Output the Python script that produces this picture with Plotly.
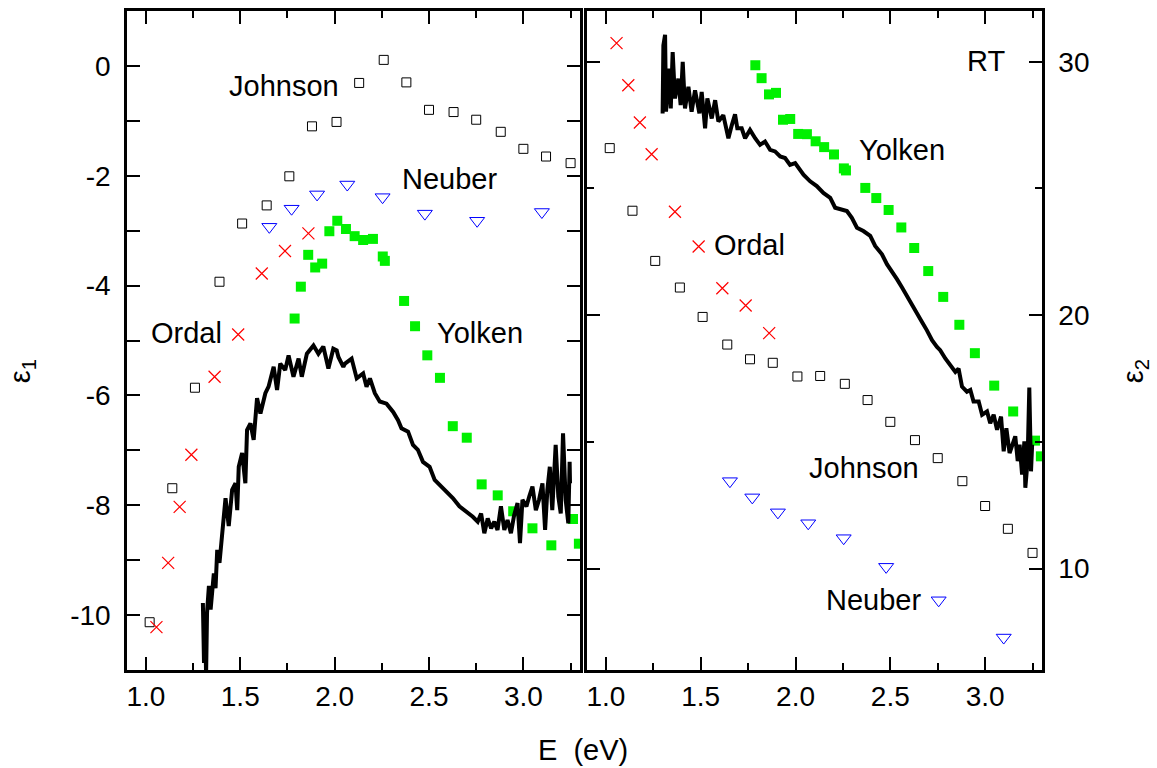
import plotly.graph_objects as go

# ---------------- data ----------------
# Johnson (open squares)
johnson_E = [1.02, 1.14, 1.26, 1.39, 1.51, 1.64, 1.76, 1.88, 2.01, 2.13, 2.26,
             2.38, 2.50, 2.63, 2.75, 2.88, 3.00, 3.12, 3.25]
johnson_e1 = [-10.13, -7.69, -5.86, -3.93, -2.87, -2.54, -2.01, -1.10, -1.02, -0.31, 0.11,
              -0.30, -0.80, -0.84, -0.98, -1.20, -1.51, -1.65, -1.77]
johnson_e2 = [26.59, 24.12, 22.14, 21.09, 19.93, 18.84, 18.26, 18.12, 17.58, 17.60, 17.29,
              16.65, 15.79, 15.07, 14.36, 13.45, 12.47, 11.57, 10.62]

# Ordal (crosses)
ordal_E = [1.056, 1.118, 1.179, 1.241, 1.364, 1.489, 1.614, 1.737, 1.861]
ordal_e1 = [-10.22, -9.05, -8.03, -7.08, -5.66, -4.89, -3.78, -3.37, -3.05]
ordal_e2 = [30.73, 29.07, 27.60, 26.35, 24.08, 22.71, 21.06, 20.38, 19.29]

# Neuber (open down triangles)
neuber_E = [1.654, 1.772, 1.907, 2.067, 2.254, 2.478, 2.755, 3.098]
neuber_e1 = [-2.93, -2.60, -2.34, -2.16, -2.39, -2.69, -2.82, -2.66]
neuber_e2 = [13.45, 12.81, 12.22, 11.79, 11.20, 10.07, 8.75, 7.28]

# Yolken (filled green squares)
yolken_E = [1.788, 1.821, 1.860, 1.897, 1.934, 1.972, 2.014, 2.060, 2.106, 2.151, 2.203,
            2.255, 2.266, 2.368, 2.426, 2.491, 2.558, 2.626, 2.700, 2.779, 2.864, 2.946,
            3.048, 3.148, 3.263, 3.294]
yolken_e1 = [-4.60, -4.02, -3.44, -3.67, -3.60, -3.01, -2.82, -2.97, -3.10, -3.17, -3.15,
             -3.47, -3.55, -4.28, -4.74, -5.27, -5.68, -6.56, -6.77, -7.62, -7.82, -8.11,
             -8.42, -8.73, -8.25, -8.70]
yolken_e2 = [29.86, 29.35, 28.71, 28.77, 27.71, 27.74, 27.15, 27.14, 26.86, 26.63, 26.34,
             25.79, 25.71, 25.02, 24.62, 24.15, 23.46, 22.65, 21.74, 20.72, 19.62, 18.50,
             17.22, 16.20, 15.05, 14.43]

# This work, RT (black noisy curve) - epsilon_1
meas1_E = [1.302, 1.308, 1.314, 1.319, 1.324, 1.334, 1.343, 1.360, 1.369, 1.378, 1.390,
           1.405, 1.422, 1.439, 1.457, 1.475, 1.484, 1.492, 1.510, 1.527, 1.536, 1.554,
           1.571, 1.589, 1.607, 1.633, 1.650, 1.677, 1.695, 1.712, 1.738, 1.756, 1.782,
           1.809, 1.826, 1.853, 1.888, 1.914, 1.940, 1.967, 1.993, 2.011, 2.020, 2.046,
           2.055, 2.090, 2.117, 2.151, 2.169, 2.187, 2.213, 2.239, 2.275, 2.310, 2.336,
           2.354, 2.389, 2.415, 2.441, 2.468, 2.503, 2.530, 2.556, 2.591, 2.626, 2.661,
           2.697, 2.732, 2.758, 2.776, 2.793, 2.811, 2.829, 2.846, 2.863, 2.881, 2.899,
           2.916, 2.934, 2.951, 2.969, 2.982, 2.995, 3.016, 3.031, 3.048, 3.066, 3.083,
           3.101, 3.115, 3.127, 3.140, 3.153, 3.171, 3.185, 3.198, 3.210, 3.224, 3.238,
           3.245, 3.247]
meas1_e1 = [-9.78, -10.87, -10.15, -11.09, -9.96, -9.47, -9.90, -9.24, -9.51, -8.81, -9.05,
            -8.51, -7.87, -8.38, -7.72, -7.60, -8.09, -7.30, -7.05, -7.60, -6.63, -6.51,
            -6.81, -6.05, -6.33, -5.96, -5.84, -5.48, -5.90, -5.42, -5.54, -5.27, -5.66,
            -5.33, -5.66, -5.24, -5.09, -5.24, -5.11, -5.51, -5.15, -5.18, -5.30, -5.48,
            -5.42, -5.33, -5.69, -5.60, -5.84, -5.69, -5.96, -6.11, -6.15, -6.30, -6.45,
            -6.60, -6.66, -6.90, -6.99, -7.21, -7.30, -7.54, -7.63, -7.75, -7.87, -8.02,
            -8.11, -8.21, -8.30, -8.15, -8.51, -8.24, -8.42, -8.30, -8.45, -8.02, -8.45,
            -8.27, -8.51, -8.18, -7.96, -8.69, -7.90, -8.02, -7.84, -7.66, -8.09, -7.90,
            -7.60, -8.45, -7.72, -7.30, -8.09, -6.90, -7.84, -8.15, -6.69, -7.90, -8.33,
            -7.21, -7.60]

# This work, RT (black noisy curve) - epsilon_2
meas2_E = [1.299, 1.303, 1.312, 1.317, 1.329, 1.342, 1.352, 1.364, 1.382, 1.394, 1.405,
           1.417, 1.435, 1.452, 1.470, 1.493, 1.505, 1.523, 1.535, 1.558, 1.576, 1.593,
           1.619, 1.646, 1.664, 1.681, 1.693, 1.716, 1.734, 1.760, 1.787, 1.813, 1.839,
           1.866, 1.892, 1.919, 1.945, 1.971, 1.998, 2.021, 2.042, 2.077, 2.112, 2.147,
           2.183, 2.209, 2.235, 2.271, 2.297, 2.324, 2.358, 2.394, 2.420, 2.456, 2.482,
           2.508, 2.535, 2.561, 2.588, 2.614, 2.640, 2.667, 2.693, 2.720, 2.746, 2.763,
           2.790, 2.816, 2.843, 2.860, 2.878, 2.904, 2.922, 2.939, 2.966, 2.984, 3.010,
           3.027, 3.045, 3.063, 3.084, 3.098, 3.112, 3.129, 3.147, 3.159, 3.172, 3.182,
           3.195, 3.207, 3.212, 3.224, 3.233, 3.242, 3.248]
meas2_e2 = [27.96, 30.64, 31.06, 28.03, 29.73, 28.16, 30.38, 28.55, 29.33, 28.29, 29.99,
            28.16, 29.01, 28.03, 28.87, 27.96, 28.81, 27.37, 28.55, 27.76, 28.48, 27.64,
            27.89, 26.98, 27.50, 27.92, 27.37, 27.37, 26.98, 27.31, 26.98, 26.72, 26.85,
            26.52, 26.46, 26.26, 26.20, 25.93, 26.00, 25.74, 25.54, 25.28, 25.09, 24.82,
            24.63, 24.24, 24.20, 24.11, 23.84, 23.45, 23.32, 23.13, 22.73, 22.40, 22.01,
            21.75, 21.42, 21.10, 20.77, 20.44, 20.12, 19.73, 19.40, 19.01, 18.75, 18.62,
            18.29, 18.03, 17.76, 17.89, 17.18, 16.98, 17.05, 16.59, 16.59, 16.07, 16.20,
            15.74, 16.07, 15.48, 16.00, 14.63, 15.54, 14.56, 15.02, 15.22, 14.24, 14.89,
            13.71, 15.02, 13.19, 14.24, 17.14, 13.84, 14.89]

x_ticks = [1.0, 1.5, 2.0, 2.5, 3.0]
x_ticklabels = ["1.0", "1.5", "2.0", "2.5", "3.0"]
y1_ticks = [0, -2, -4, -6, -8, -10]
y1_ticklabels = ["0", "-2", "-4", "-6", "-8", "-10"]
y2_ticks = [10, 20, 30]
y2_ticklabels = ["10", "20", "30"]

# ---------------- figure ----------------
FONT = "Arial, Liberation Sans, sans-serif"
GREEN = "#00f000"

fig = go.Figure()

# left panel (epsilon_1)
fig.add_trace(go.Scatter(x=johnson_E, y=johnson_e1, mode="markers", xaxis="x", yaxis="y",
                         marker=dict(symbol="square-open", size=9, color="black", line=dict(width=1))))
fig.add_trace(go.Scatter(x=neuber_E, y=neuber_e1, mode="markers", xaxis="x", yaxis="y",
                         marker=dict(symbol="triangle-down-open", size=13, color="blue", line=dict(width=1))))
fig.add_trace(go.Scatter(x=ordal_E, y=ordal_e1, mode="markers", xaxis="x", yaxis="y",
                         marker=dict(symbol="x-thin-open", size=12, color="red", line=dict(width=1.2, color="red"))))
fig.add_trace(go.Scatter(x=yolken_E, y=yolken_e1, mode="markers", xaxis="x", yaxis="y",
                         marker=dict(symbol="square", size=10, color=GREEN, line=dict(width=0))))
fig.add_trace(go.Scatter(x=meas1_E, y=meas1_e1, mode="lines", xaxis="x", yaxis="y",
                         line=dict(color="black", width=4)))

# right panel (epsilon_2)
fig.add_trace(go.Scatter(x=johnson_E, y=johnson_e2, mode="markers", xaxis="x2", yaxis="y2",
                         marker=dict(symbol="square-open", size=9, color="black", line=dict(width=1))))
fig.add_trace(go.Scatter(x=neuber_E, y=neuber_e2, mode="markers", xaxis="x2", yaxis="y2",
                         marker=dict(symbol="triangle-down-open", size=13, color="blue", line=dict(width=1))))
fig.add_trace(go.Scatter(x=ordal_E, y=ordal_e2, mode="markers", xaxis="x2", yaxis="y2",
                         marker=dict(symbol="x-thin-open", size=12, color="red", line=dict(width=1.2, color="red"))))
fig.add_trace(go.Scatter(x=yolken_E, y=yolken_e2, mode="markers", xaxis="x2", yaxis="y2",
                         marker=dict(symbol="square", size=10, color=GREEN, line=dict(width=0))))
fig.add_trace(go.Scatter(x=meas2_E, y=meas2_e2, mode="lines", xaxis="x2", yaxis="y2",
                         line=dict(color="black", width=4)))

axis_common = dict(showline=True, linecolor="black", linewidth=2.5, mirror="ticks",
                   ticks="inside", tickcolor="black", tickwidth=2, showgrid=False,
                   zeroline=False, tickfont=dict(family=FONT, size=28, color="black"))

fig.update_layout(
    width=1157, height=768,
    margin=dict(l=127, r=115, t=8, b=98),
    paper_bgcolor="white", plot_bgcolor="white",
    showlegend=False,
    xaxis=dict(domain=[0, 0.4951], range=[0.9, 3.3], anchor="y",
               tickvals=x_ticks, ticktext=x_ticklabels, ticklen=13,
               minor=dict(dtick=0.25, tick0=0, ticklen=7, tickwidth=1.5, ticks="inside", tickcolor="black"),
               **axis_common),
    yaxis=dict(domain=[0, 1], range=[-11, 1], anchor="x",
               tickvals=y1_ticks, ticktext=y1_ticklabels, ticklen=13, ticklabelstandoff=8,
               minor=dict(dtick=1, tick0=0, ticklen=13, tickwidth=2, ticks="inside", tickcolor="black"),
               **axis_common),
    xaxis2=dict(domain=[0.5027, 1], range=[0.9, 3.3], anchor="y2",
                tickvals=x_ticks, ticktext=x_ticklabels, ticklen=13,
                minor=dict(dtick=0.25, tick0=0, ticklen=7, tickwidth=1.5, ticks="inside", tickcolor="black"),
                **axis_common),
    yaxis2=dict(domain=[0, 1], range=[6, 32], anchor="x2", side="right",
                tickvals=y2_ticks, ticktext=y2_ticklabels, ticklen=13, ticklabelstandoff=8,
                minor=dict(dtick=5, tick0=0, ticklen=7, tickwidth=2, ticks="inside", tickcolor="black"),
                **axis_common),
)

ann_font = dict(family=FONT, size=29, color="black")
labels = [
    ("Johnson", 1.733, -0.36, "x", "y"),
    ("Neuber", 2.609, -2.05, "x", "y"),
    ("Ordal", 1.216, -4.87, "x", "y"),
    ("Yolken", 2.772, -4.87, "x", "y"),
    ("Yolken", 2.563, 26.51, "x2", "y2"),
    ("Ordal", 1.755, 22.75, "x2", "y2"),
    ("Johnson", 2.362, 13.96, "x2", "y2"),
    ("Neuber", 2.410, 8.75, "x2", "y2"),
    ("RT", 3.006, 30.04, "x2", "y2"),
]
for txt, x, y, xr, yr in labels:
    fig.add_annotation(text=txt, x=x, y=y, xref=xr, yref=yr, showarrow=False,
                       font=ann_font, xanchor="center", yanchor="middle")

fig.add_annotation(text="ε<sub>1</sub>", x=-0.1148, y=0.4532, xref="paper", yref="paper",
                   showarrow=False, textangle=-90, font=ann_font, xanchor="center", yanchor="middle")
fig.add_annotation(text="ε<sub>2</sub>", x=1.1016, y=0.4532, xref="paper", yref="paper",
                   showarrow=False, textangle=-90, font=ann_font, xanchor="center", yanchor="middle")
fig.add_annotation(text="E  (eV)", x=0.4984, y=-0.1208, xref="paper", yref="paper",
                   showarrow=False, font=ann_font, xanchor="center", yanchor="middle")

fig.write_html("out.html")
